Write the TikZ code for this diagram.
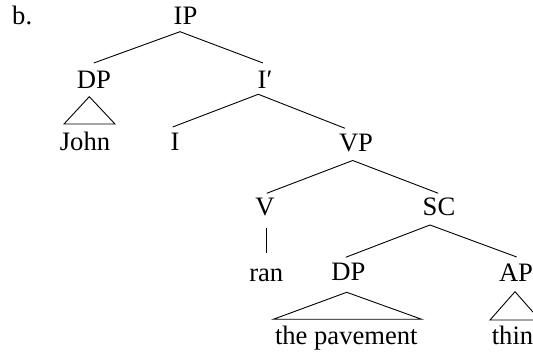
\documentclass[tikz,border=0pt]{standalone}
\usepackage{fontspec}
\setmainfont{Liberation Serif}
\begin{document}
\begin{tikzpicture}[x=1pt,y=1pt,
  lbl/.style={inner sep=0pt,anchor=base,font=\fontsize{26.6pt}{30pt}\selectfont},
  branch/.style={line width=0.9pt},
  roof/.style={line width=0.9pt,line join=miter}]
\useasboundingbox (0,0) rectangle (533,352);

% labels (placed on their baselines)
\node[lbl,anchor=base west] (ex) at (12,327.5) {b.};
\node[lbl] (IP)   at (185.5,327.5) {IP};
\node[lbl] (DPa)  at (93.8,263.7)  {DP};
\node[lbl] (Ibar) at (265,263.2)   {I′};
\node[lbl] (John) at (85,201.3)    {John};
\node[lbl] (I)    at (175,201.3)   {I};
\node[lbl] (VP)   at (356,200.3)   {VP};
\node[lbl] (V)    at (265,136)     {V};
\node[lbl] (SC)   at (439,136)     {SC};
\node[lbl] (ran)  at (266.3,70.8)  {ran};
\node[lbl] (DPb)  at (348.3,71)    {DP};
\node[lbl] (AP)   at (516,70.5)    {AP};
\node[lbl] (pave) at (346.3,7)     {the pavement};
\node[lbl] (thin) at (512.5,7)     {thin};

% branches
\draw[branch] ([yshift=25.3pt]DPa.base) -- ([xshift=-5.5pt,yshift=-7.2pt]IP.base)
              -- ([xshift=-2pt,yshift=25.8pt]Ibar.base);
\draw[branch] ([xshift=-2.3pt,yshift=23.7pt]I.base) -- ([xshift=-6.7pt,yshift=-5.5pt]Ibar.base)
              -- ([xshift=-11pt,yshift=23.4pt]VP.base);
\draw[branch] ([xshift=1.7pt,yshift=22.7pt]V.base) -- ([xshift=-3.3pt,yshift=-8.8pt]VP.base)
              -- ([xshift=-0.7pt,yshift=22.7pt]SC.base);
\draw[branch] ([xshift=1pt,yshift=-12.3pt]V.base) -- ([xshift=-0.3pt,yshift=28.2pt]ran.base);
\draw[branch] ([xshift=-2.6pt,yshift=23.7pt]DPb.base) -- ([xshift=-9pt,yshift=-9pt]SC.base)
              -- ([xshift=0.7pt,yshift=24.5pt]AP.base);

% roofs over unanalysed constituents
\draw[roof] ([xshift=-4.5pt,yshift=-8.4pt]DPa.base) -- ([xshift=-21pt,yshift=26.7pt]John.base)
            -- ([xshift=30pt,yshift=26.7pt]John.base) -- cycle;
\draw[roof] ([xshift=-1.6pt,yshift=-11.3pt]DPb.base) -- ([xshift=-73pt,yshift=25.7pt]pave.base)
            -- ([xshift=75.4pt,yshift=25.7pt]pave.base) -- cycle;
\draw[roof] ([xshift=-1pt,yshift=-10.2pt]AP.base) -- ([xshift=-22.5pt,yshift=25pt]thin.base)
            -- ([xshift=27.5pt,yshift=25pt]thin.base) -- cycle;
\end{tikzpicture}
\end{document}
